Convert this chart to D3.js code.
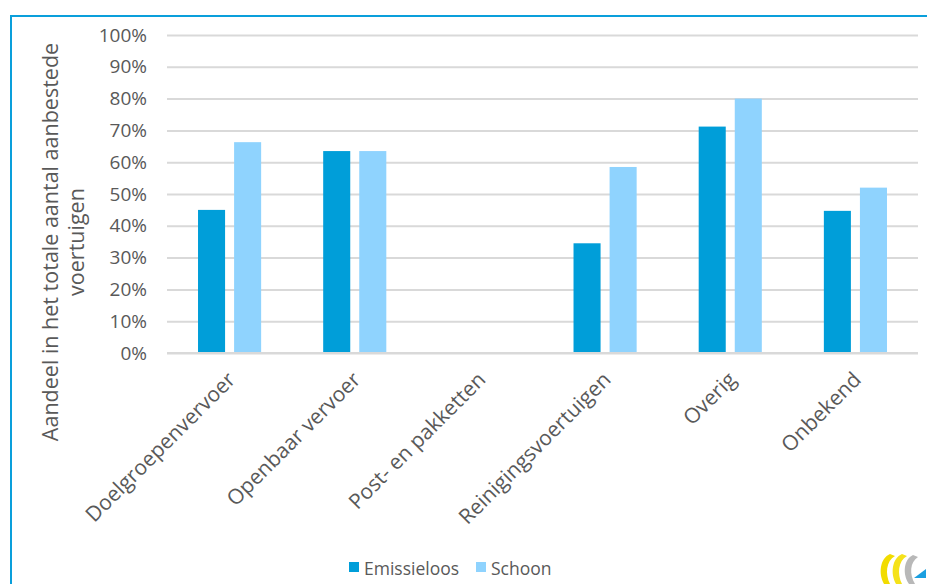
<!DOCTYPE html>
<html><head><meta charset="utf-8">
<script src="https://cdn.jsdelivr.net/npm/d3@7"></script>
<style>body{margin:0;background:#fff}svg{display:block}text{font-family:"Open Sans",sans-serif;fill:#595959}</style>
</head><body><svg id="c" width="927" height="584"></svg>
<script>
const categories = ["Doelgroepenvervoer","Openbaar vervoer","Post- en pakketten","Reinigingsvoertuigen","Overig","Onbekend"];
const seriesNames = ["Emissieloos","Schoon"];
const emissieloos = [0.45, 0.635, null, 0.345, 0.712, 0.447];
const schoon = [0.663, 0.635, null, 0.585, 0.80, 0.52];
const yTicks = [0,0.1,0.2,0.3,0.4,0.5,0.6,0.7,0.8,0.9,1.0];
const colors = ["#009ED9","#8FD3FE"];
const yTitle = ["Aandeel in het totale aantal aanbestede","voertuigen"];

const svg = d3.select("#c");
svg.append("path").attr("d","M11,584V16H927").attr("fill","none").attr("stroke","#0A9FDB").attr("stroke-width",2);

const x = d3.scaleBand().domain(categories).range([167,918]);
const xi = d3.scaleBand().domain(seriesNames).range([0,x.bandwidth()]).paddingInner(0.25).paddingOuter(0.86);
const y = d3.scaleLinear().domain([0,1]).range([353,35]);

const gy = svg.append("g").attr("transform","translate(167,0)")
  .call(d3.axisLeft(y).tickValues(yTicks).tickSize(-751).tickFormat(d3.format(".0%")));
gy.select(".domain").remove();
gy.selectAll(".tick line").attr("stroke","#D9D9D9").attr("stroke-width",2);
gy.selectAll(".tick text").attr("x",-20).attr("font-size",19).attr("font-family","Open Sans").attr("fill","#595959");

const data = categories.map((c,i)=>({c, vals:[emissieloos[i],schoon[i]]}));
const gb = svg.append("g");
data.forEach(d=>{
  d.vals.forEach((v,j)=>{
    if(v==null) return;
    gb.append("rect").attr("x",x(d.c)+xi(seriesNames[j])).attr("width",xi.bandwidth())
      .attr("y",y(v)).attr("height",y(0)-y(v)).attr("fill",colors[j]);
  });
});
svg.append("line").attr("x1",167).attr("x2",918).attr("y1",y(0)).attr("y2",y(0)).attr("stroke","#D9D9D9").attr("stroke-width",2);

const gx = svg.append("g").attr("transform",`translate(0,${y(0)})`)
  .call(d3.axisBottom(x).tickSize(0));
gx.select(".domain").remove();
gx.selectAll(".tick text").attr("font-size",21).attr("font-family","Open Sans").attr("fill","#595959")
  .attr("text-anchor","end").attr("dy",null).attr("y",0)
  .attr("transform","translate(7,28) rotate(-45)");

const t = svg.append("text").attr("transform","translate(51,242) rotate(-90)").attr("text-anchor","middle").attr("font-size",21.5);
yTitle.forEach((s,i)=>t.append("tspan").attr("x",0).attr("dy",i?26:7).text(s));

const lg = svg.append("g");
const lx = [349,476];
seriesNames.forEach((s,i)=>{
  lg.append("rect").attr("x",lx[i]).attr("y",562).attr("width",10).attr("height",10).attr("fill",colors[i]);
  lg.append("text").attr("x",lx[i]+15).attr("y",575).attr("font-size",17.5).text(s);
});

const lo = svg.append("g").attr("transform","translate(876,550)");
lo.append("path").attr("d","M14,4 C4,8 2,24 8,34 L14,34 C9,24 10,11 19,6 Z").attr("fill","#F2DC00");
lo.append("path").attr("d","M26,4 C16,8 14,24 20,34 L26,34 C21,24 22,11 31,6 Z").attr("fill","#F5E21A");
lo.append("path").attr("d","M37,5 C28,9 26,24 33,34 L39,34 C33,24 34,12 42,7 Z").attr("fill","#B8B8B8");
lo.append("path").attr("d","M38,28 L50,19 L50,28 Z").attr("fill","#1B9FE0");
</script></body></html>
